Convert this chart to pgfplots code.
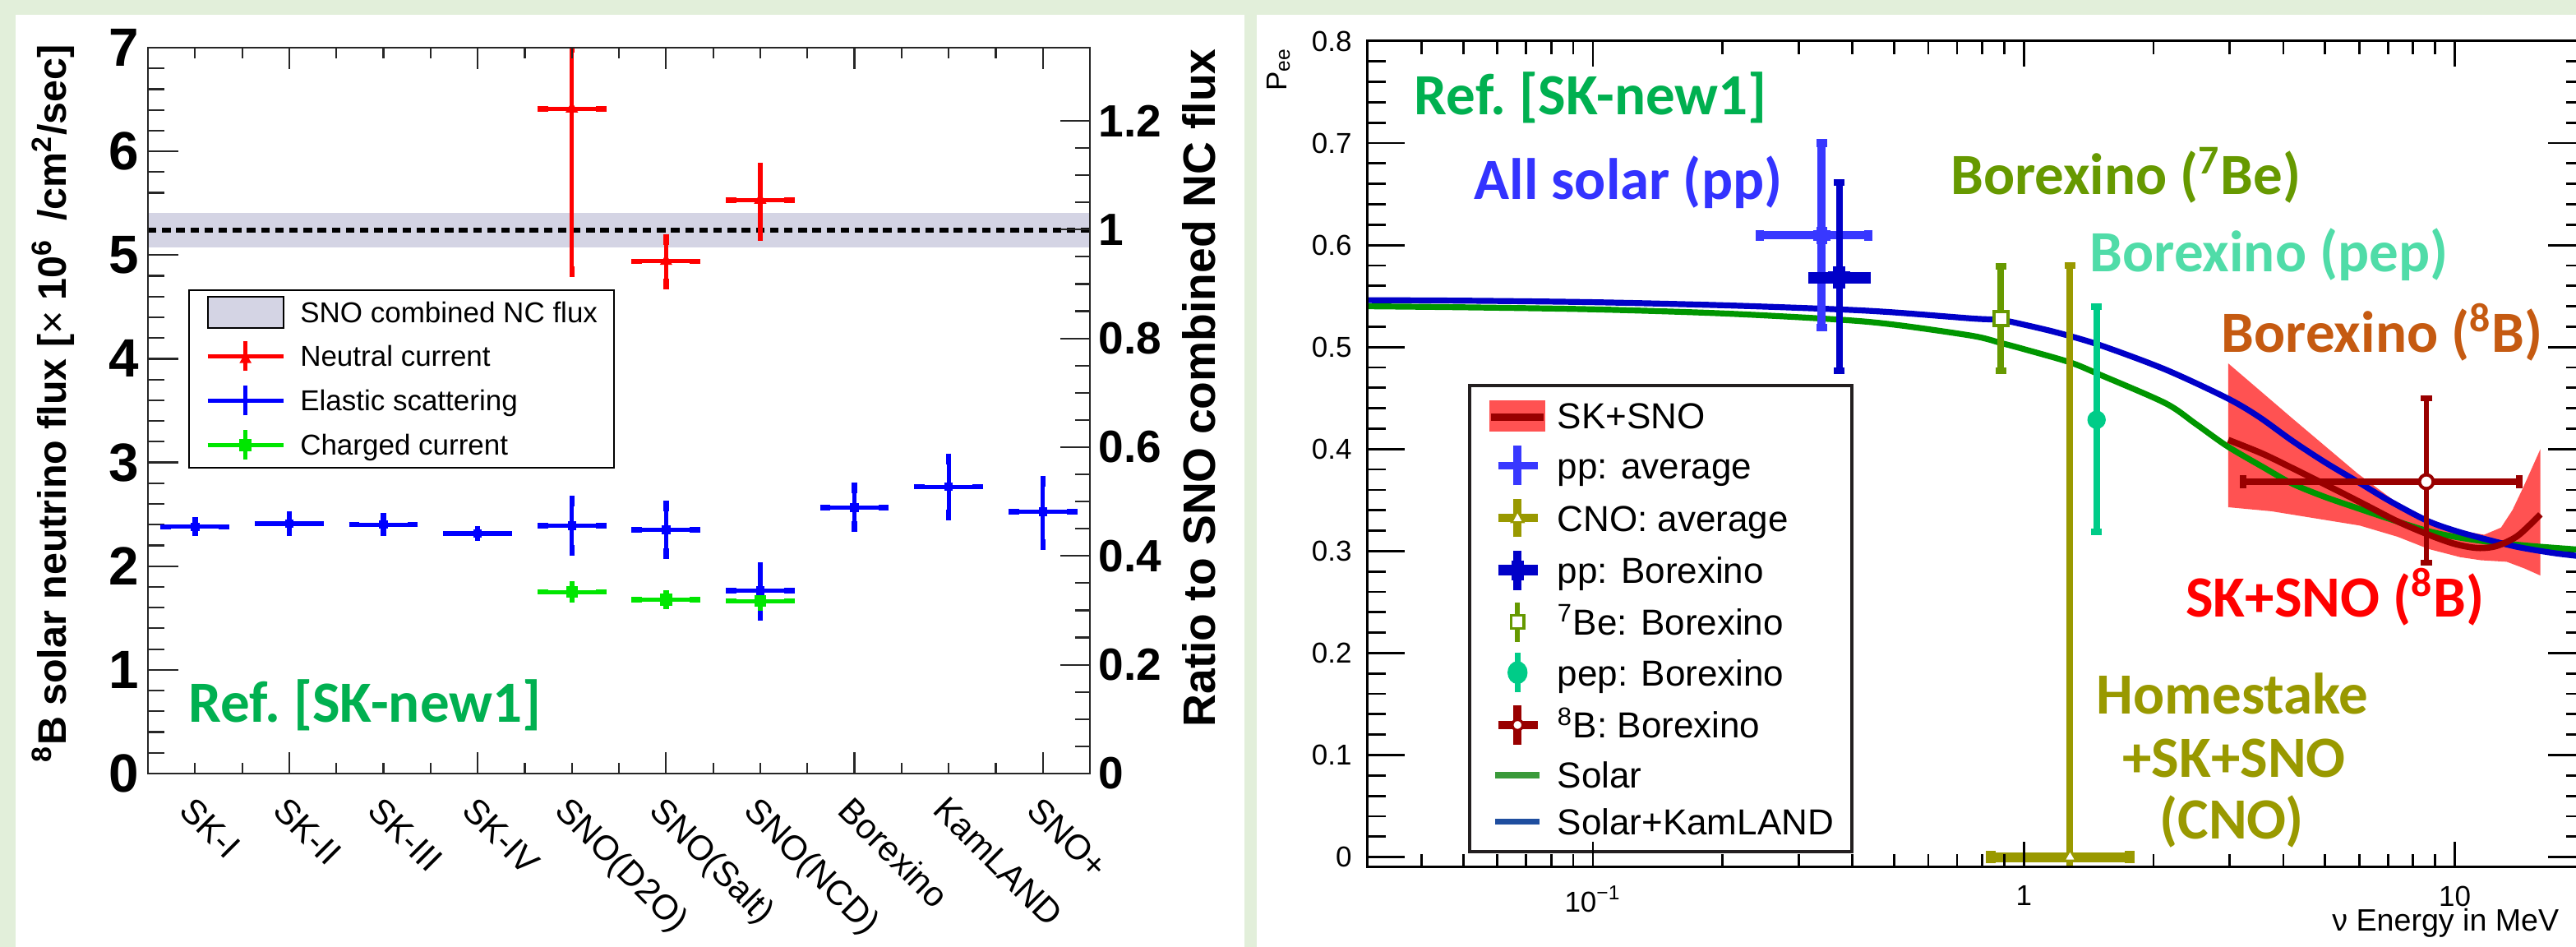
\documentclass[border=0pt]{standalone}
\usepackage{pgfplots}
\usepackage{pgfplotstable}
\pgfplotsset{compat=1.18}
\usepackage{fontspec}
\setmainfont{Liberation Sans}
\newfontfamily\calfont{Carlito}
\definecolor{bgc}{HTML}{E2EFDA}
\definecolor{bandgray}{RGB}{212,212,228}
\definecolor{esblue}{RGB}{0,0,255}
\definecolor{ncred}{RGB}{255,0,0}
\definecolor{ccgreen}{RGB}{0,230,0}
\definecolor{curveblue}{RGB}{0,0,200}
\definecolor{curvegreen}{RGB}{0,150,0}
\definecolor{skband}{RGB}{255,82,82}
\definecolor{darkred}{RGB}{153,0,0}
\definecolor{ppavg}{RGB}{56,56,255}
\definecolor{ppbx}{RGB}{0,0,200}
\definecolor{beolive}{RGB}{102,153,0}
\definecolor{cnoolive}{RGB}{153,153,0}
\definecolor{pepgreen}{RGB}{0,204,136}
\definecolor{peptext}{RGB}{80,220,168}
\definecolor{borange}{RGB}{197,90,17}
\definecolor{refgreen}{RGB}{0,176,80}
\definecolor{allblue}{RGB}{51,51,255}
\definecolor{legsolar}{RGB}{58,154,58}
\definecolor{legkam}{RGB}{31,78,159}
\definecolor{legframe}{RGB}{35,31,32}
\newcommand{\annot}{\calfont\bfseries\fontsize{17.75}{20}\selectfont}

\pgfplotstableread{
x y ex eyp eym
0 2.38 0.31 0.04 0.04
1 2.41 0.31 0.07 0.07
2 2.40 0.31 0.06 0.06
3 2.315 0.31 0.02 0.02
4 2.39 0.31 0.24 0.24
5 2.35 0.31 0.23 0.23
6 1.765 0.31 0.22 0.24
7 2.565 0.31 0.19 0.18
8 2.765 0.31 0.27 0.27
9 2.525 0.31 0.29 0.32
}\esdata
\pgfplotstableread{
x y ex eyp eym
4 6.41 0.31 0.59 1.57
5 4.94 0.31 0.21 0.22
6 5.53 0.31 0.31 0.34
}\ncdata
\pgfplotstableread{
x y ex eyp eym
4 1.751 0.31 0.05 0.05
5 1.675 0.31 0.04 0.04
6 1.663 0.31 0.04 0.04
}\ccdata

\begin{document}
\begin{tikzpicture}
\fill[bgc] (0,0) rectangle (783.5pt,288pt);
\fill[white] (4.75pt,0) rectangle (378.5pt,283.5pt);
\fill[white] (382.25pt,0) rectangle (783.5pt,283.5pt);

% ---------------- LEFT PANEL ----------------
\begin{axis}[
  at={(45pt,52.75pt)}, anchor=south west,
  width=286.5pt, height=220.75pt, scale only axis,
  xmin=-0.5, xmax=9.5, ymin=0, ymax=7,
  axis line style={line width=0.6pt, black!85},
  tick style={line width=0.55pt, black!85},
  xtick={0,...,9},
  xticklabels={SK-I,SK-II,SK-III,SK-IV,SNO(D2O),SNO(Salt),SNO(NCD),Borexino,KamLAND,SNO+},
  x tick label style={font=\fontsize{10.6}{10.6}\selectfont, inner sep=0pt, xshift=0pt, yshift=-6.25pt, rotate=-45, anchor=north west},
  xtick style={draw=none},
  ytick={0,1,2,3,4,5,6,7}, yticklabels={0,1,2,3,4,5,6,7},
  ytick pos=left, minor y tick num=4,
  y tick label style={font=\bfseries\fontsize{16.4}{16.4}\selectfont, inner sep=0pt, xshift=-2.5pt},
  tick align=inside, major tick length=9.25pt, minor tick length=5pt,
  legend style={at={(0.0428,0.6673)}, anchor=north west, draw=black, line width=0.5pt, fill=white,
    inner xsep=5pt, inner ysep=1.8pt, row sep=3.2pt, column sep=4.5pt,
    font=\fontsize{8.75}{10}\selectfont,
    nodes={inner sep=0pt, text height=8.1pt, text depth=1.9pt}, cells={anchor=west}},
  legend cell align=left,
]
\addplot[fill=bandgray, draw=none, forget plot] coordinates {(-0.5,5.07) (9.5,5.07) (9.5,5.41) (-0.5,5.41)} -- cycle;
\addplot[black, line width=1.3pt, dash pattern=on 2.6pt off 1.7pt, forget plot] coordinates {(-0.5,5.24) (9.5,5.24)};
\addplot[ncred, only marks, mark=triangle*, mark size=1.8pt, forget plot,
  error bars/.cd, x dir=both, x explicit, y dir=both, y explicit,
  error bar style={line width=1.3pt, ncred},
  error mark options={line width=1.6pt, mark size=1.6pt, ncred}]
  table[x=x, y=y, x error=ex, y error plus=eyp, y error minus=eym]{\ncdata};
\addplot[esblue, only marks, mark=square*, mark size=1.1pt, forget plot,
  error bars/.cd, x dir=both, x explicit, y dir=both, y explicit,
  error bar style={line width=1.3pt, esblue},
  error mark options={line width=1.6pt, mark size=1.6pt, esblue}]
  table[x=x, y=y, x error=ex, y error plus=eyp, y error minus=eym]{\esdata};
\addplot[ccgreen, only marks, mark=square*, mark size=1.6pt, forget plot,
  error bars/.cd, x dir=both, x explicit, y dir=both, y explicit,
  error bar style={line width=1.3pt, ccgreen},
  error mark options={line width=1.6pt, mark size=1.6pt, ccgreen}]
  table[x=x, y=y, x error=ex, y error plus=eyp, y error minus=eym]{\ccdata};
\addlegendimage{legend image code/.code={\draw[fill=bandgray, draw=black, line width=0.5pt] (0pt,-4.7pt) rectangle (23pt,4.7pt);}}
\addlegendentry{SNO combined NC flux\hspace{4pt}}
\addlegendimage{legend image code/.code={\draw[ncred, line width=1.3pt] (0pt,0pt)--(23pt,0pt) (11.5pt,-4.5pt)--(11.5pt,4.5pt); \fill[ncred] (11.5pt,0.6pt)--(10.1pt,-1.8pt)--(12.9pt,-1.8pt)--cycle;}}
\addlegendentry{Neutral current}
\addlegendimage{legend image code/.code={\draw[esblue, line width=1.3pt] (0pt,0pt)--(23pt,0pt) (11.5pt,-4.5pt)--(11.5pt,4.5pt);}}
\addlegendentry{Elastic scattering}
\addlegendimage{legend image code/.code={\draw[ccgreen, line width=1.3pt] (0pt,0pt)--(23pt,0pt) (11.5pt,-4.5pt)--(11.5pt,4.5pt); \fill[ccgreen] (9.9pt,-1.6pt) rectangle (13.1pt,1.6pt);}}
\addlegendentry{Charged current}
\end{axis}

\begin{axis}[
  at={(45pt,52.75pt)}, anchor=south west,
  width=286.5pt, height=220.75pt, scale only axis,
  xmin=-0.5, xmax=9.5, ymin=0, ymax=7,
  axis line style={line width=0.6pt, black!85},
  tick style={line width=0.55pt, black!85},
  xtick={1,3,5,7,9}, xticklabels={}, minor xtick={0,0.5,...,9},
  ytick=\empty, xtick pos=both, tick align=inside,
  major tick length=6.5pt, minor tick length=3.25pt,
]
\end{axis}

\begin{axis}[
  at={(45pt,52.75pt)}, anchor=south west,
  width=286.5pt, height=220.75pt, scale only axis,
  xmin=-0.5, xmax=9.5, ymin=0, ymax=1.3345,
  axis line style={line width=0.6pt, black!85},
  tick style={line width=0.55pt, black!85},
  xtick=\empty,
  ytick={0,0.2,0.4,0.6,0.8,1,1.2}, yticklabels={0,0.2,0.4,0.6,0.8,1,1.2},
  ytick pos=right, yticklabel pos=right, minor y tick num=3,
  y tick label style={font=\bfseries\fontsize{13.75}{13.75}\selectfont, inner sep=0pt, xshift=2.5pt},
  tick align=inside, major tick length=9pt, minor tick length=4.5pt,
]
\end{axis}

\node[rotate=90, anchor=base, inner sep=0pt, font=\bfseries\fontsize{12.1}{14}\selectfont] at (20pt,165.25pt)
  {\textsuperscript{8}B solar neutrino flux [{\mdseries ×} 10\textsuperscript{6} \,/cm\textsuperscript{2}/sec]};
\node[rotate=90, anchor=base, inner sep=0pt, font=\bfseries\fontsize{13.8}{15}\selectfont] at (369.5pt,170pt)
  {Ratio to SNO combined NC flux};
\node[anchor=base west, inner sep=0pt, text=refgreen, font=\annot] at (57.125pt,68.25pt) {Ref.\ [SK-new1]};

% ---------------- RIGHT PANEL ----------------
\begin{axis}[
  at={(415.95pt,24.25pt)}, anchor=south west,
  width=370.13pt, height=251.25pt, scale only axis,
  xmode=log, xmin=0.03, xmax=20, ymin=-0.01, ymax=0.8,
  axis line style={line width=0.75pt, black},
  tick style={line width=0.7pt, black},
  xtick={0.1,1,10}, xticklabels={10\textsuperscript{−1},1,10},
  xtick style={draw=none},
  x tick label style={font=\fontsize{8.75}{10}\selectfont, inner sep=0pt, yshift=-5.5pt},
  ytick={0,0.1,0.2,0.3,0.4,0.5,0.6,0.7,0.8},
  yticklabels={0,0.1,0.2,0.3,0.4,0.5,0.6,0.7,0.8},
  ytick pos=both, minor y tick num=4,
  y tick label style={font=\fontsize{8.75}{10}\selectfont, inner sep=0pt, xshift=-4.6pt},
  tick align=inside, major tick length=11.25pt, minor tick length=5.6pt,
  legend style={at={(0.0825,0.5849)}, anchor=north west, draw=legframe, line width=0.9pt, fill=white,
    inner xsep=5.5pt, inner ysep=3pt, row sep=1.74pt, column sep=3pt,
    font=\fontsize{11pt}{12pt}\selectfont,
    nodes={inner sep=0pt, text height=10.2pt, text depth=2.2pt}, cells={anchor=west}},
  legend cell align=left,
]
% SK+SNO band
\addplot[fill=skband, draw=none, forget plot] coordinates {
 (2.98,0.484) (4.2,0.430) (5.95,0.376) (7.2,0.350) (8.6,0.331) (10,0.321) (11.7,0.316) (12.8,0.323) (13.6,0.340) (14.4,0.362) (15.8,0.400)
 (15.8,0.276) (14.5,0.283) (13.2,0.2895) (11.5,0.291) (10.3,0.294) (8.7,0.302) (7.37,0.314) (6.02,0.325) (3.76,0.339) (2.98,0.343)} -- cycle;
% Solar
\addplot[curvegreen, line width=1.8pt, smooth, forget plot] coordinates {
 (0.03,0.540) (0.05,0.539) (0.1,0.537) (0.2,0.533) (0.37,0.527) (0.5,0.522) (0.76,0.511) (0.885,0.504) (1.0,0.498) (1.28,0.485) (1.5,0.473) (2.13,0.445) (2.5,0.425) (2.96,0.403) (3.6,0.382) (4.2,0.366) (5.0,0.353) (5.95,0.342) (7.0,0.332) (8.6,0.320) (10,0.314) (12,0.309) (15,0.305) (20,0.301)};
% Solar+KamLAND
\addplot[curveblue, line width=1.8pt, smooth, forget plot] coordinates {
 (0.03,0.546) (0.05,0.5455) (0.1,0.544) (0.2,0.541) (0.37,0.537) (0.5,0.534) (0.76,0.528) (0.885,0.5265) (1.0,0.522) (1.2,0.514) (1.5,0.502) (2.13,0.478) (2.96,0.450) (3.5,0.432) (4.2,0.408) (5.0,0.387) (5.95,0.368) (7.0,0.350) (8.6,0.330) (10,0.320) (11.7,0.312) (14,0.304) (17,0.298) (20,0.2945)};
% SK+SNO best fit
\addplot[darkred, line width=1.9pt, smooth, forget plot] coordinates {
 (2.98,0.409) (3.6,0.395) (4.45,0.376) (5.3,0.360) (6.22,0.345) (7.37,0.329) (8.7,0.316) (10,0.307) (11.3,0.303) (12.5,0.305) (14,0.315) (15.8,0.336)};
% pp average
\addplot[ppavg, line width=2.4pt, mark=-, mark size=1.6pt, mark options={solid}, forget plot] coordinates {(0.3395,0.519) (0.3395,0.700)};
\addplot[ppavg, line width=2.4pt, mark=|, mark size=1.6pt, mark options={solid}, forget plot] coordinates {(0.2442,0.6096) (0.4355,0.6096)};
\addplot[ppavg, only marks, mark=+, mark size=2.6pt, line width=3.2pt, forget plot] coordinates {(0.3395,0.6096)};
% pp Borexino
\addplot[ppbx, line width=2pt, mark=-, mark size=1.6pt, mark options={solid}, forget plot] coordinates {(0.373,0.4766) (0.373,0.661)};
\addplot[ppbx, line width=3.4pt, mark=|, mark size=1.8pt, mark options={solid}, forget plot] coordinates {(0.326,0.568) (0.4276,0.568)};
\addplot[ppbx, only marks, mark=+, mark size=3.4pt, line width=3.8pt, forget plot] coordinates {(0.373,0.568)};
% 7Be
\addplot[beolive, line width=2pt, mark=-, mark size=1.6pt, mark options={solid}, forget plot] coordinates {(0.885,0.4766) (0.885,0.5794)};
\addplot[beolive, only marks, mark=square*, mark size=2.1pt, mark options={fill=white, draw=beolive, line width=1pt}, forget plot] coordinates {(0.885,0.528)};
% CNO
\addplot[cnoolive, line width=2pt, mark=-, mark size=1.6pt, mark options={solid}, forget plot] coordinates {(1.28,-0.03) (1.28,0.58)};
\addplot[cnoolive, line width=3pt, mark=|, mark size=1.8pt, mark options={solid}, forget plot] coordinates {(0.838,0) (1.759,0)};
\addplot[cnoolive, only marks, mark=triangle*, mark size=2.3pt, mark options={fill=white, draw=cnoolive, line width=0.8pt}, forget plot] coordinates {(1.28,0)};
% pep
\addplot[pepgreen, line width=2pt, mark=-, mark size=1.6pt, mark options={solid}, forget plot] coordinates {(1.475,0.319) (1.475,0.54)};
\addplot[pepgreen, only marks, mark=*, mark size=2.6pt, forget plot] coordinates {(1.475,0.4287)};
% 8B Borexino
\addplot[darkred, line width=1.7pt, mark=-, mark size=1.8pt, mark options={solid}, forget plot] coordinates {(8.59,0.2886) (8.59,0.45)};
\addplot[darkred, line width=2.1pt, mark=|, mark size=2pt, mark options={solid}, forget plot] coordinates {(3.23,0.368) (14.1,0.368)};
\addplot[darkred, only marks, mark=*, mark size=2.1pt, mark options={fill=white, draw=darkred, line width=1pt}, forget plot] coordinates {(8.59,0.368)};
% legend
\addlegendimage{legend image code/.code={\fill[skband] (0pt,-4.3pt) rectangle (16pt,4.3pt); \draw[darkred, line width=2.25pt] (0pt,-0.4pt) -- (16pt,-0.4pt); \path[draw=none] (0pt,-6.2pt) rectangle (16pt,6.2pt);}}
\addlegendentry{SK+SNO}
\addlegendimage{legend image code/.code={\draw[ppavg, line width=2.4pt] (8pt,-6pt)--(8pt,6pt) (2.1pt,0pt)--(14.1pt,0pt); \path[draw=none] (0pt,-6.2pt) rectangle (16pt,6.2pt);}}
\addlegendentry{pp: average}
\addlegendimage{legend image code/.code={\draw[cnoolive, line width=2.4pt] (8pt,-5.8pt)--(8pt,5.8pt) (2.1pt,0pt)--(14.1pt,0pt); \draw[cnoolive, fill=white, line width=0.6pt] (8pt,2.1pt)--(6.2pt,-1.3pt)--(9.8pt,-1.3pt)--cycle; \path[draw=none] (0pt,-6.2pt) rectangle (16pt,6.2pt);}}
\addlegendentry{CNO: average}
\addlegendimage{legend image code/.code={\draw[ppbx, line width=2.4pt] (8pt,-6pt)--(8pt,6pt); \draw[ppbx, line width=3.2pt] (2.1pt,0pt)--(14.1pt,0pt); \draw[ppbx, line width=3.8pt] (8pt,-3pt)--(8pt,3pt); \path[draw=none] (0pt,-6.2pt) rectangle (16pt,6.2pt);}}
\addlegendentry{pp: Borexino}
\addlegendimage{legend image code/.code={\draw[beolive, line width=1.5pt] (8pt,-6pt)--(8pt,6pt); \draw[beolive, fill=white, line width=0.9pt] (6.1pt,-2pt) rectangle (9.9pt,2pt); \path[draw=none] (0pt,-6.2pt) rectangle (16pt,6.2pt);}}
\addlegendentry{\textsuperscript{7}Be: Borexino}
\addlegendimage{legend image code/.code={\draw[pepgreen, line width=1.8pt] (8pt,-6pt)--(8pt,6pt); \fill[pepgreen] (8pt,0pt) ellipse (2.6pt and 3pt); \path[draw=none] (0pt,-6.2pt) rectangle (16pt,6.2pt);}}
\addlegendentry{pep: Borexino}
\addlegendimage{legend image code/.code={\draw[darkred, line width=2.6pt] (8pt,-6pt)--(8pt,6pt) (2.1pt,0pt)--(14.1pt,0pt); \draw[darkred, fill=white, line width=0.8pt] (8pt,0pt) circle (1.6pt); \path[draw=none] (0pt,-6.2pt) rectangle (16pt,6.2pt);}}
\addlegendentry{\textsuperscript{8}B: Borexino}
\addlegendimage{legend image code/.code={\draw[legsolar, line width=1.9pt] (1.15pt,0pt)--(14.75pt,0pt); \path[draw=none] (0pt,-6.2pt) rectangle (16pt,6.2pt);}}
\addlegendentry{Solar}
\addlegendimage{legend image code/.code={\draw[legkam, line width=1.9pt] (1.15pt,0pt)--(14.75pt,0pt); \path[draw=none] (0pt,-6.2pt) rectangle (16pt,6.2pt);}}
\addlegendentry{Solar+KamLAND\hspace{2.5pt}}
\end{axis}

\begin{axis}[
  at={(415.95pt,24.25pt)}, anchor=south west,
  width=370.13pt, height=251.25pt, scale only axis,
  xmode=log, xmin=0.03, xmax=20, ymin=-0.01, ymax=0.8,
  axis line style={line width=0.75pt, black},
  tick style={line width=0.7pt, black},
  xtick={0.1,1,10}, xticklabels={},
  minor xtick={0.04,0.05,0.06,0.07,0.08,0.09,0.2,0.3,0.4,0.5,0.6,0.7,0.8,0.9,2,3,4,5,6,7,8,9},
  ytick=\empty, xtick pos=both, tick align=inside,
  major tick length=7.75pt, minor tick length=4pt,
]
\end{axis}

\node[rotate=90, anchor=base east, inner sep=0pt, font=\fontsize{8.75}{10}\selectfont] at (391.25pt,273.75pt) {P\textsubscript{ee}};
\node[anchor=base east, inner sep=0pt, font=\fontsize{9.4}{11}\selectfont] at (778.5pt,4.75pt) {ν Energy in MeV};

\node[anchor=base west, inner sep=0pt, text=refgreen, font=\annot] at (430pt,253.1pt) {Ref.\ [SK-new1]};
\node[anchor=base west, inner sep=0pt, text=allblue, font=\annot] at (448.2pt,227.25pt) {All solar (pp)};
\node[anchor=base west, inner sep=0pt, text=beolive, font=\annot] at (593.1pt,228.85pt) {Borexino (\textsuperscript{7}Be)};
\node[anchor=base west, inner sep=0pt, text=peptext, font=\annot] at (635.5pt,205.35pt) {Borexino (pep)};
\node[anchor=base west, inner sep=0pt, text=borange, font=\annot] at (675.5pt,180.75pt) {Borexino (\textsuperscript{8}B)};
\node[anchor=base west, inner sep=0pt, text=red, font=\annot] at (664.6pt,100.25pt) {SK+SNO (\textsuperscript{8}B)};
\node[anchor=base, inner sep=0pt, text=cnoolive, font=\annot] at (679pt,70.8pt) {Homestake};
\node[anchor=base, inner sep=0pt, text=cnoolive, font=\annot] at (679.5pt,51.65pt) {+SK+SNO};
\node[anchor=base, inner sep=0pt, text=cnoolive, font=\annot] at (678.75pt,32.8pt) {(CNO)};

\pgfresetboundingbox
\path[use as bounding box] (0,0) rectangle (783.5pt,288pt);
\end{tikzpicture}
\end{document}
